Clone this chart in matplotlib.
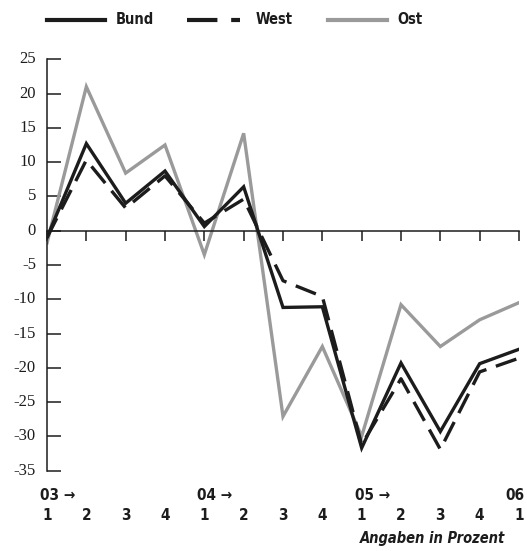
import matplotlib
matplotlib.use("Agg")
import matplotlib.pyplot as plt
from matplotlib.lines import Line2D
import matplotlib.transforms as mtransforms

quarters = ["1", "2", "3", "4", "1", "2", "3", "4", "1", "2", "3", "4", "1"]
year_labels = {0: "03 \u2192", 4: "04 \u2192", 8: "05 \u2192", 12: "06"}
bund = [-1.0, 12.7, 4.0, 8.7, 0.6, 6.4, -11.2, -11.1, -31.7, -19.3, -29.3, -19.4, -17.3]
west = [-1.0, 10.3, 3.3, 8.0, 1.1, 4.6, -7.3, -9.6, -31.2, -21.6, -31.9, -20.6, -18.6]
ost = [-1.8, 21.0, 8.4, 12.5, -3.5, 14.2, -27.1, -16.9, -30.0, -10.8, -16.9, -13.0, -10.5]
yticks = [25, 20, 15, 10, 5, 0, -5, -10, -15, -20, -25, -30, -35]

plt.rcParams["font.serif"] = ["Liberation Serif", "DejaVu Serif"]

W, H = 527, 551
fig = plt.figure(figsize=(W / 100, H / 100), dpi=100)
ax = fig.add_axes([47 / W, (H - 470.6) / H, (519 - 47) / W, (470.6 - 59.3) / H])

x = list(range(len(quarters)))
dark = "#1c1c1c"
grey = "#9a9a9a"
lw = 2.4
ax.plot(x, ost, color=grey, lw=lw, solid_joinstyle="miter", zorder=2)
ax.plot(x, west, color=dark, lw=lw, dashes=(6.5, 3), solid_joinstyle="miter", zorder=3)
ax.plot(x, bund, color=dark, lw=lw, solid_joinstyle="miter", zorder=4)

ax.set_xlim(0, 12)
ax.set_ylim(-35, 25)
for s in ["top", "right"]:
    ax.spines[s].set_visible(False)
ax.spines["bottom"].set_position(("data", 0))
ax.spines["bottom"].set_color(dark)
ax.spines["left"].set_color(dark)
ax.spines["bottom"].set_linewidth(1.1)
ax.spines["left"].set_linewidth(1.1)

ax.set_xticks(x)
ax.set_xticklabels([])
ax.tick_params(axis="x", direction="out", length=7, width=1.1, color=dark)
ax.set_yticks(yticks)
ax.set_yticklabels([])
ax.tick_params(axis="y", direction="in", length=10, width=1.1, color=dark)
ytrans = mtransforms.blended_transform_factory(fig.transFigure, ax.transData)
for v in yticks:
    ax.text(36 / W, v, str(v), transform=ytrans, ha="right", va="center",
            family=["Liberation Serif", "DejaVu Serif"], fontsize=12, color=dark)
ax.patch.set_visible(False)

cond = dict(family="DejaVu Sans", fontstretch="condensed", fontweight="bold", color=dark)
trans = mtransforms.blended_transform_factory(ax.transData, fig.transFigure)
for i, q in enumerate(quarters):
    ax.text(i, 1 - 515 / H, q, transform=trans, ha="center", va="center", fontsize=11, **cond)
for i, lab in year_labels.items():
    if i == 12:
        fig.text(524 / W, 1 - 495 / H, lab, ha="right", va="center", fontsize=11, **cond)
    else:
        off = mtransforms.offset_copy(trans, fig=fig, x=-7, y=0, units="dots")
        ax.text(i, 1 - 495 / H, lab, transform=off, ha="left", va="center", fontsize=11, **cond)

fig.text(505 / W, 1 - 539 / H, "Angaben in Prozent", ha="right", va="center", fontsize=10.5,
         family="DejaVu Sans", fontstretch="condensed", fontweight="bold", style="italic", color=dark)

# legend
ly = 1 - 20 / H
legend_items = [
    ("Bund", dark, "-", 47, 105, 116),
    ("West", dark, "--", 187, 240, 256),
    ("Ost", grey, "-", 328, 387, 397),
]
for name, col, ls, x0, x1, tx in legend_items:
    ln = Line2D([x0 / W, x1 / W], [ly, ly], transform=fig.transFigure, color=col, lw=3)
    if ls == "--":
        ln.set_dashes((7.3, 3.3))
    fig.add_artist(ln)
    fig.text(tx / W, ly, name, ha="left", va="center", fontsize=10.5, **cond)

fig.savefig("out.png", dpi=100)
